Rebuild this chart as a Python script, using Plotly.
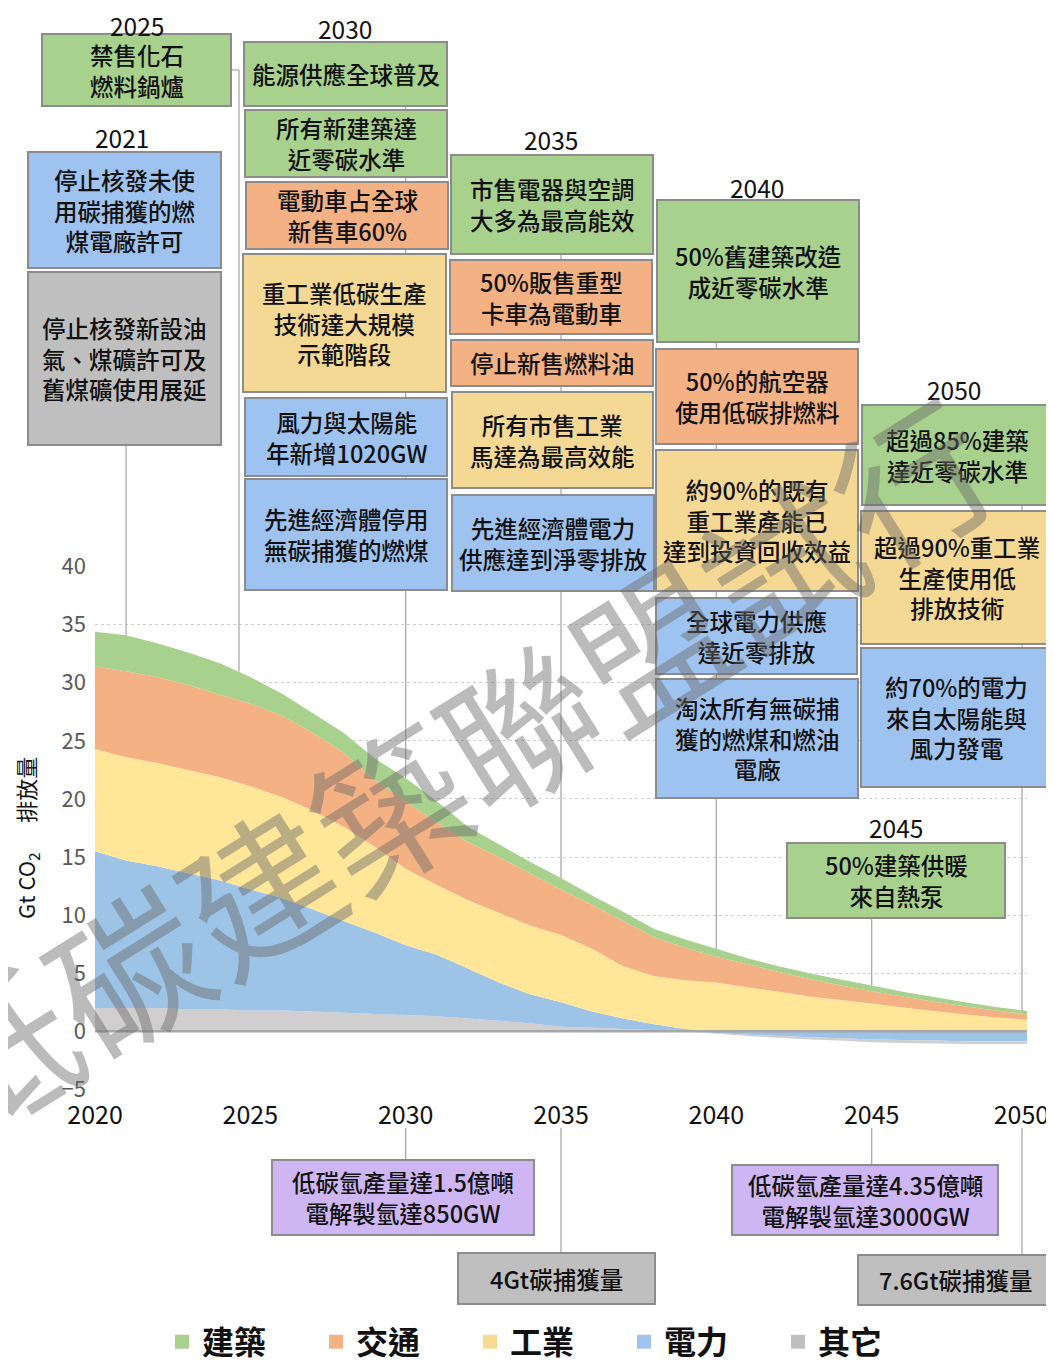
import numpy as np
import plotly.graph_objects as go

# ---------------- data ----------------
years = list(range(2020, 2051))
buildings = [3.0, 3.1, 2.9, 2.8, 2.7, 2.3, 1.9, 1.7, 1.7, 1.9, 2.0, 1.8, 1.3, 1.1, 1.0, 1.0,
             0.8, 0.8, 0.7, 0.7, 0.7, 0.5, 0.5, 0.5, 0.5, 0.5, 0.4, 0.4, 0.35, 0.3, 0.3]
transport = [7.1, 7.4, 7.4, 7.3, 7.1, 7.1, 7.0, 6.7, 6.4, 5.7, 5.8, 5.4, 5.0, 4.8, 4.5, 3.9,
             3.8, 3.9, 3.35, 2.8, 2.2, 2.0, 1.7, 1.5, 1.25, 1.05, 0.95, 0.8, 0.7, 0.6, 0.45]
industry = [8.8, 8.9, 8.9, 8.9, 8.9, 8.9, 8.7, 8.5, 8.1, 7.4, 6.6, 6.0, 5.9, 6.0, 5.9, 5.8,
            5.4, 4.5, 4.15, 4.2, 4.2, 3.8, 3.4, 3.0, 2.7, 2.4, 2.05, 1.75, 1.45, 1.2, 1.0]
power = [13.5, 12.7, 12.2, 11.7, 11.1, 10.4, 9.7, 8.8, 7.9, 7.0, 6.0, 5.3, 4.3, 3.3, 2.5, 2.1,
         1.4, 0.9, 0.5, 0.2, -0.15, -0.3, -0.4, -0.5, -0.6, -0.7, -0.75, -0.8, -0.85, -0.85, -0.85]
other = [2.0, 2.0, 2.0, 1.9, 1.9, 1.8, 1.8, 1.7, 1.6, 1.5, 1.4, 1.3, 1.1, 0.9, 0.7, 0.4,
         0.3, 0.2, 0.1, 0.0, -0.05, -0.1, -0.15, -0.2, -0.2, -0.25, -0.25, -0.25, -0.25, -0.25, -0.25]

sector_names = ["建築", "交通", "工業", "電力", "其它"]
x_ticks = [2020, 2025, 2030, 2035, 2040, 2045, 2050]
x_tick_labels = ["2020", "2025", "2030", "2035", "2040", "2045", "2050"]
y_title = "Gt CO<sub>2</sub>" + "\u00a0" * 6 + "排放量"

# ---------------- layout constants ----------------
OFF = 8                      # page margin of the html body
W, H = 1054 - OFF, 1364 - OFF
L, T = 95 - OFF, 566 - OFF   # plot area left/top in figure pixels
R = W - (1027 - OFF)
B = H - (1090 - OFF)
PW, PH = W - L - R, H - T - B
YMIN, YMAX = -5, 40
FONT = "Noto Sans CJK TC, Noto Sans, sans-serif"

C_AREA = {"建築": "#A9D18E", "交通": "#F4B183", "工業": "#FFE699", "電力": "#9DC3E6", "其它": "#D0CECE"}
C_LEG = {"建築": "#A9D18E", "交通": "#F4B183", "工業": "#F5DC92", "電力": "#A0C4F0", "其它": "#BFBFBF"}
GREEN, ORANGE, YELLOW, BLUE, GREY, PURPLE = "#A9D18E", "#F4B183", "#F4D894", "#9EC3F0", "#BFBFBF", "#CEB6F5"


# reference-window pixel -> paper coordinates
def px(xp):
    return (xp - OFF - L) / PW


def py(yp):
    return (H - B - (yp - OFF)) / PH


def year_of(xp):
    return 2020 + (xp - 95) / (1027 - 95) * 30


def pos(v):
    return [max(a, 0) for a in v]


def neg(v):
    return [min(a, 0) for a in v]


fig = go.Figure()

# positive stack (bottom -> top)
for name, vals in [("其它", pos(other)), ("電力", pos(power)), ("工業", industry),
                   ("交通", transport), ("建築", buildings)]:
    fig.add_trace(go.Scatter(x=years, y=vals, stackgroup="pos", mode="none",
                             fillcolor=C_AREA[name], line=dict(width=0),
                             showlegend=False, hoverinfo="skip", name=name))
# negative stack (0 -> down)
for name, vals in [("電力", neg(power)), ("其它", neg(other))]:
    fig.add_trace(go.Scatter(x=years, y=vals, stackgroup="neg", mode="none",
                             fillcolor=C_AREA[name], line=dict(width=0),
                             showlegend=False, hoverinfo="skip", name=name))

# legend entries
for i, name in enumerate(sector_names):
    fig.add_trace(go.Scatter(x=[None], y=[None], mode="markers", name=name,
                             marker=dict(symbol="square", size=14, color=C_LEG[name]),
                             legendrank=i + 1, showlegend=True))

total = np.array(pos(other)) + np.array(pos(power)) + np.array(industry) + np.array(transport) + np.array(buildings)


def total_at(yr):
    return float(np.interp(yr, years, total))


def dpaper(v):
    return (v - YMIN) / (YMAX - YMIN)


shapes = []
LC = "#ababab"
# connectors from boxes down to the curve
conn_top = [(2021, 445), (year_of(239), 70), (2030, 106), (2035, 254), (2040, 342),
            (year_of(1022), 505), (2045, 918)]
for yr, ytop in conn_top:
    shapes.append(dict(type="line", xref="x", yref="paper", x0=yr, x1=yr,
                       y0=py(ytop), y1=dpaper(total_at(yr)), line=dict(color=LC, width=1.3)))
# 2025 elbow
shapes.append(dict(type="line", xref="paper", yref="paper", x0=px(231), x1=px(239),
                   y0=py(70), y1=py(70), line=dict(color=LC, width=1.3)))
# bottom connectors
for yr, ybot in [(2030, 1160), (2035, 1253), (2045, 1165), (year_of(1022), 1255)]:
    shapes.append(dict(type="line", xref="x", yref="paper", x0=yr, x1=yr,
                       y0=py(1128), y1=py(ybot), line=dict(color=LC, width=1.3)))

# zero line
shapes.append(dict(type="line", xref="paper", yref="y", x0=0, x1=1, y0=0, y1=0,
                   line=dict(color="#a6a6a6", width=2.5)))

boxes = [
    (28, 152, 221, 268, BLUE, "停止核發未使<br>用碳捕獲的燃<br>煤電廠許可"),
    (28, 272, 221, 445, GREY, "停止核發新設油<br>氣、煤礦許可及<br>舊煤礦使用展延"),
    (42, 34, 231, 106, GREEN, "禁售化石<br>燃料鍋爐"),
    (244, 42, 447, 106, GREEN, "能源供應全球普及"),
    (245, 110, 447, 177, GREEN, "所有新建築達<br>近零碳水準"),
    (246, 182, 448, 249, ORANGE, "電動車占全球<br>新售車60%"),
    (243, 254, 446, 392, YELLOW, "重工業低碳生產<br>技術達大規模<br>示範階段"),
    (245, 398, 447, 476, BLUE, "風力與太陽能<br>年新增1020GW"),
    (245, 479, 447, 590, BLUE, "先進經濟體停用<br>無碳捕獲的燃煤"),
    (451, 155, 653, 254, GREEN, "市售電器與空調<br>大多為最高能效"),
    (450, 260, 652, 334, ORANGE, "50%販售重型<br>卡車為電動車"),
    (451, 340, 653, 386, ORANGE, "停止新售燃料油"),
    (452, 392, 653, 488, YELLOW, "所有市售工業<br>馬達為最高效能"),
    (452, 495, 654, 591, BLUE, "先進經濟體電力<br>供應達到淨零排放"),
    (657, 200, 859, 342, GREEN, "50%舊建築改造<br>成近零碳水準"),
    (656, 349, 858, 444, ORANGE, "50%的航空器<br>使用低碳排燃料"),
    (656, 450, 858, 591, YELLOW, "約90%的既有<br>重工業產能已<br>達到投資回收效益"),
    (656, 598, 857, 674, BLUE, "全球電力供應<br>達近零排放"),
    (656, 679, 858, 798, BLUE, "淘汰所有無碳捕<br>獲的燃煤和燃油<br>電廠"),
    (862, 405, 1052, 505, GREEN, "超過85%建築<br>達近零碳水準"),
    (861, 511, 1052, 644, YELLOW, "超過90%重工業<br>生產使用低<br>排放技術"),
    (861, 648, 1052, 787, BLUE, "約70%的電力<br>來自太陽能與<br>風力發電"),
    (787, 843, 1005, 918, GREEN, "50%建築供暖<br>來自熱泵"),
    (272, 1160, 534, 1235, PURPLE, "低碳氫產量達1.5億噸<br>電解製氫達850GW"),
    (458, 1253, 655, 1304, GREY, "4Gt碳捕獲量"),
    (732, 1165, 998, 1235, PURPLE, "低碳氫產量達4.35億噸<br>電解製氫達3000GW"),
    (858, 1255, 1053, 1305, GREY, "7.6Gt碳捕獲量"),
]

annotations = []
for x0, y0, x1, y1, col, txt in boxes:
    shapes.append(dict(type="rect", xref="paper", yref="paper", x0=px(x0), x1=px(x1),
                       y0=py(y1), y1=py(y0), fillcolor=col, line=dict(color="#8c8c8c", width=2)))
    annotations.append(dict(xref="paper", yref="paper", x=px((x0 + x1) / 2), y=py((y0 + y1) / 2),
                            text=txt, showarrow=False, xanchor="center", yanchor="middle",
                            font=dict(size=23.5, color="#111111", family=FONT, weight=500)))

year_titles = [("2021", 122, 137), ("2025", 137, 25), ("2030", 345, 28), ("2035", 551, 139),
               ("2040", 757, 187), ("2050", 954, 389), ("2045", 896, 827)]
for txt, xx, yy in year_titles:
    annotations.append(dict(xref="paper", yref="paper", x=px(xx), y=py(yy), text=txt,
                            showarrow=False, xanchor="center", yanchor="middle",
                            font=dict(size=24.5, color="#111111", family=FONT)))

# y-axis title
annotations.append(dict(xref="paper", yref="paper", x=px(26), y=py(838), text=y_title,
                        showarrow=False, textangle=-90, xanchor="center", yanchor="middle",
                        font=dict(size=22, color="#111111", family=FONT)))

# watermark
annotations.append(dict(xref="paper", yref="paper", x=px(452), y=py(762), text="低碳建築聯盟試行",
                        showarrow=False, textangle=-32, xanchor="center", yanchor="middle",
                        font=dict(size=154, color="rgba(105,105,105,0.45)", family=FONT)))

# last tick label sits a little inside the right edge, as in the reference
tick_text = [t + ("\u00a0\u00a0" if i == len(x_tick_labels) - 1 else "") for i, t in enumerate(x_tick_labels)]

fig.update_layout(
    width=W, height=H,
    margin=dict(l=L, r=R, t=T, b=B, autoexpand=False),
    paper_bgcolor="white", plot_bgcolor="white",
    font=dict(family=FONT, color="#111111"),
    xaxis=dict(range=[2020, 2050], tickvals=x_ticks, ticktext=tick_text, showgrid=False,
               zeroline=False, showline=False, ticks="", tickfont=dict(size=25, color="#111111"),
               ticklabelstandoff=8, ticklabeloverflow="allow", fixedrange=True),
    yaxis=dict(range=[YMIN - 0.05, YMAX + 0.05], dtick=5, tick0=0, showgrid=True,
               gridcolor="#cfcfcf", griddash="dot", gridwidth=1, zeroline=False,
               showline=False, ticks="", tickfont=dict(size=22, color="#595959"),
               ticklabelstandoff=8, ticklabeloverflow="allow", fixedrange=True),
    legend=dict(orientation="h", x=px(547), xanchor="center", y=py(1342), yanchor="middle",
                font=dict(size=32, color="#111111", family=FONT, weight="bold"), entrywidth=109,
                entrywidthmode="pixels", traceorder="normal", bgcolor="rgba(0,0,0,0)",
                itemsizing="trace"),
    shapes=shapes,
    annotations=annotations,
    showlegend=True,
)

fig.write_html("out.html")
